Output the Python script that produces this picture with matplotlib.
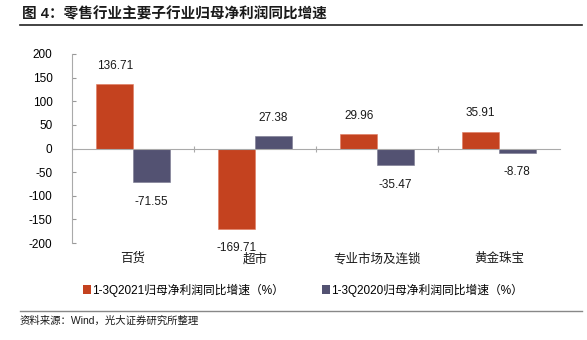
import numpy as np
import matplotlib.pyplot as plt
from matplotlib.patches import Patch
from matplotlib.lines import Line2D

plt.rcParams['font.family'] = ['Liberation Sans', 'Noto Sans CJK SC', 'DejaVu Sans']
plt.rcParams['axes.unicode_minus'] = False

categories = ['百货', '超市', '专业市场及连锁', '黄金珠宝']
growth_2021 = [136.71, -169.71, 29.96, 35.91]
growth_2020 = [-71.55, 27.38, -35.47, -8.78]
series_names = ['1-3Q2021归母净利润同比增速（%）', '1-3Q2020归母净利润同比增速（%）']
colors = ['#C4421F', '#535272']

fig = plt.figure(figsize=(5.87, 3.40), dpi=100)
ax = fig.add_axes([72 / 587, 1 - 243 / 340, 488 / 587, 189 / 340])

x = np.arange(len(categories))
w = 0.30
ax.bar(x - w / 2, growth_2021, w, color=colors[0], edgecolor='#E07A5F', linewidth=0.4)
ax.bar(x + w / 2, growth_2020, w, color=colors[1], edgecolor='#7A7990', linewidth=0.4)

for i in range(len(categories)):
    for v, dx in ((growth_2021[i], -w / 2), (growth_2020[i], w / 2)):
        off = 13 if v >= 0 else -14
        ax.annotate(f'{v:.2f}', (x[i] + dx, v), xytext=(0, off), textcoords='offset points',
                    ha='center', va='center', fontsize=8.5, color='#1a1a1a')

ax.set_xlim(-0.5, len(categories) - 0.5)
ax.set_ylim(-200, 200)
ax.set_yticks(np.arange(-200, 201, 50))
ax.tick_params(axis='y', direction='in', length=3, color='#999999', labelsize=8.5, pad=14)

ax.spines['top'].set_visible(False)
ax.spines['right'].set_visible(False)
ax.spines['left'].set_color('#AAAAAA')
ax.spines['bottom'].set_position(('data', 0))
ax.spines['bottom'].set_color('#AAAAAA')
ax.set_xticks(np.arange(0.5, len(categories) - 0.5, 1))
ax.set_xticklabels([])
ax.tick_params(axis='x', direction='inout', length=5, color='#AAAAAA')
for i, c in enumerate(categories):
    ax.text(i, -0.085, c, transform=ax.get_xaxis_transform(), ha='center', va='center',
            fontsize=9, color='#1a1a1a')

fig.text(22 / 587, 1 - 14 / 340, '图 4：零售行业主要子行业归母净利润同比增速', fontsize=10.5,
         fontweight='bold', va='center', ha='left', color='#1a1a1a')
fig.add_artist(Line2D([20 / 587, 582 / 587], [1 - 25 / 340] * 2, color='#222222', lw=1.2))

handles = [Patch(facecolor=c, edgecolor='none') for c in colors]
fig.legend(handles, series_names, loc='center left', bbox_to_anchor=(72 / 587, 1 - 290 / 340),
           ncol=2, frameon=False, fontsize=8.5, handlelength=0.7, handleheight=0.7,
           handletextpad=0.1, columnspacing=3.2)

fig.add_artist(Line2D([20 / 587, 582 / 587], [1 - 311 / 340] * 2, color='#888888', lw=1.0))
fig.text(20 / 587, 1 - 321 / 340, '资料来源：Wind，光大证券研究所整理', fontsize=7.5,
         va='center', ha='left', color='#1a1a1a')

fig.savefig('out.png', dpi=100)
